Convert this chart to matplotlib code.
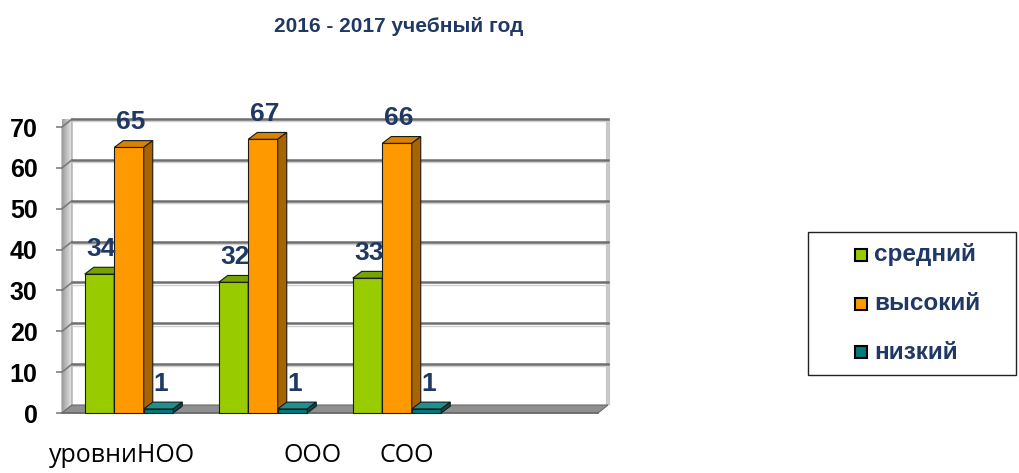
import matplotlib
matplotlib.use('Agg')
import matplotlib.pyplot as plt
from matplotlib.patches import Polygon, Rectangle
import numpy as np

# ---------------- data ----------------
title = "2016 - 2017 учебный год"
categories = ["уровниНОО", "ООО", "СОО"]
series_names = ["средний", "высокий", "низкий"]
srednij = [34, 32, 33]
vysokij = [65, 67, 66]
nizkij = [1, 1, 1]
y_ticks = [0, 10, 20, 30, 40, 50, 60, 70]
n_slots = 4  # the chart reserves room for a fourth (empty) category

series_values = [srednij, vysokij, nizkij]

# ---------------- style ----------------
front_colors = ['#99CC00', '#FF9900', '#007A7A']
top_colors = ['#77A300', '#D98200', '#1F9090']
side_colors = ['#5E8500', '#A86400', '#004C4C']
navy = '#1F3864'

W, H = 1019, 473
fig = plt.figure(figsize=(W / 100, H / 100), dpi=100)

ax = fig.add_axes([62 / W, (H - 413) / H, 536 / W, 286 / H])
ax.set_xlim(-0.5, n_slots - 0.5)
ax.set_ylim(0, 70)
for sp in ax.spines.values():
    sp.set_visible(False)
ax.set_xticks([])
ax.set_yticks(y_ticks)
ax.set_yticklabels([str(t) for t in y_ticks], fontsize=18, fontweight='bold',
                   family='Liberation Sans')
ax.tick_params(axis='y', length=4, width=1.2, color='#7f7f7f', pad=13.5)
ax.patch.set_visible(False)

# depth offsets in data units
dx = 10 * n_slots / 536
dy = 8 * 70 / 286
x_left, x_right = -0.5, n_slots - 0.5

# back wall
ax.add_patch(Rectangle((x_left + dx, dy), x_right - x_left, 70, facecolor='white',
                       edgecolor='none', zorder=0, clip_on=False))
ax.plot([x_right + dx, x_right + dx], [dy, 70 + dy], color='#c8c8c8', lw=3,
        zorder=0.5, clip_on=False, solid_capstyle='butt')
ax.plot([x_left + dx, x_right + dx], [70 + dy, 70 + dy], color='#d9d9d9', lw=1,
        zorder=0.5, clip_on=False)

# left wall with gradient
wall = Polygon([(x_left, 0), (x_left, 70), (x_left + dx, 70 + dy), (x_left + dx, dy)],
               closed=True, facecolor='none', edgecolor='#9a9a9a', lw=0.8,
               zorder=1.2, clip_on=False)
ax.add_patch(wall)
grad = np.linspace(0, 1, 50).reshape(1, -1)
im = ax.imshow(grad, extent=[x_left, x_left + dx, 0, 70 + dy], aspect='auto',
               cmap=matplotlib.colors.LinearSegmentedColormap.from_list('g', ['#9c9c9c', '#e6e6e6']),
               zorder=1, clip_on=False)
im.set_clip_path(wall)
ax.set_xlim(-0.5, n_slots - 0.5)
ax.set_ylim(0, 70)

# gridlines on back wall + left wall
for v in y_ticks:
    if v == 0:
        continue
    ax.plot([x_left + dx, x_right + dx], [v + dy, v + dy], color='#6e6e6e', lw=1.8,
            zorder=1.5, clip_on=False)
    ax.plot([x_left + dx, x_right + dx], [v + dy - 0.55, v + dy - 0.55], color='#cfcfcf',
            lw=1.0, zorder=1.4, clip_on=False)
    ax.plot([x_left, x_left + dx], [v, v + dy], color='#7a7a7a', lw=1.2,
            zorder=1.5, clip_on=False)

# floor
ax.add_patch(Polygon([(x_left, 0), (x_right, 0), (x_right + dx, dy), (x_left + dx, dy)],
                     closed=True, facecolor='#8f8f8f', edgecolor='#6a6a6a', lw=0.8,
                     zorder=1.6, clip_on=False))
ax.plot([x_left, x_right], [0, 0], color='#6a6a6a', lw=1.2, zorder=1.7, clip_on=False)

# bars
bw = 29.5 / 134
bdx = dx * 0.9
bdy = dy * 0.85
z = 3
for i in range(len(categories)):
    for s, vals in enumerate(series_values):
        h = vals[i]
        x0 = i + (s - 1) * bw - bw / 2
        x1 = x0 + bw
        ax.add_patch(Rectangle((x0, 0), bw, h, facecolor=front_colors[s],
                               edgecolor='#1a1a1a', lw=0.8, zorder=z, clip_on=False))
        ax.add_patch(Polygon([(x0, h), (x1, h), (x1 + bdx, h + bdy), (x0 + bdx, h + bdy)],
                             closed=True, facecolor=top_colors[s], edgecolor='#1a1a1a',
                             lw=0.8, zorder=z, clip_on=False))
        ax.add_patch(Polygon([(x1, 0), (x1, h), (x1 + bdx, h + bdy), (x1 + bdx, bdy)],
                             closed=True, facecolor=side_colors[s], edgecolor='#1a1a1a',
                             lw=0.8, zorder=z, clip_on=False))
        z += 0.1
        ax.annotate(str(h), ((x0 + x1) / 2, h), xytext=(2, 25), textcoords='offset pixels',
                    ha='center', va='center', fontsize=19, fontweight='bold',
                    color=navy, family='Liberation Sans', zorder=10, annotation_clip=False)

# title
fig.text(399 / W, 1 - 27 / H, title, ha='center', va='center', fontsize=15,
         fontweight='bold', color=navy, family='Liberation Sans')

# category labels (placed as in the original, below the chart)
cat_x = [122, 313, 407]
for lab, cx in zip(categories, cat_x):
    fig.text(cx / W, 1 - 455 / H, lab, ha='center', va='center', fontsize=18,
             color='black', family='Open Sans')

# legend
fig.patches.append(Rectangle((808 / W, 1 - 375 / H), (1016 - 808) / W, (375 - 232) / H,
                             transform=fig.transFigure, facecolor='white',
                             edgecolor='#222222', lw=1.0))
leg_y = [255, 304, 352]
for name, fc, ly in zip(series_names, front_colors, leg_y):
    fig.patches.append(Rectangle((855 / W, 1 - (ly + 6) / H), 12 / W, 12 / H,
                                 transform=fig.transFigure, facecolor=fc,
                                 edgecolor='black', lw=1.5))
    fig.text(874 / W, 1 - ly / H, name, ha='left', va='center', fontsize=17.5,
             fontweight='bold', color=navy, family='Liberation Sans')

fig.savefig('out.png', dpi=100)
